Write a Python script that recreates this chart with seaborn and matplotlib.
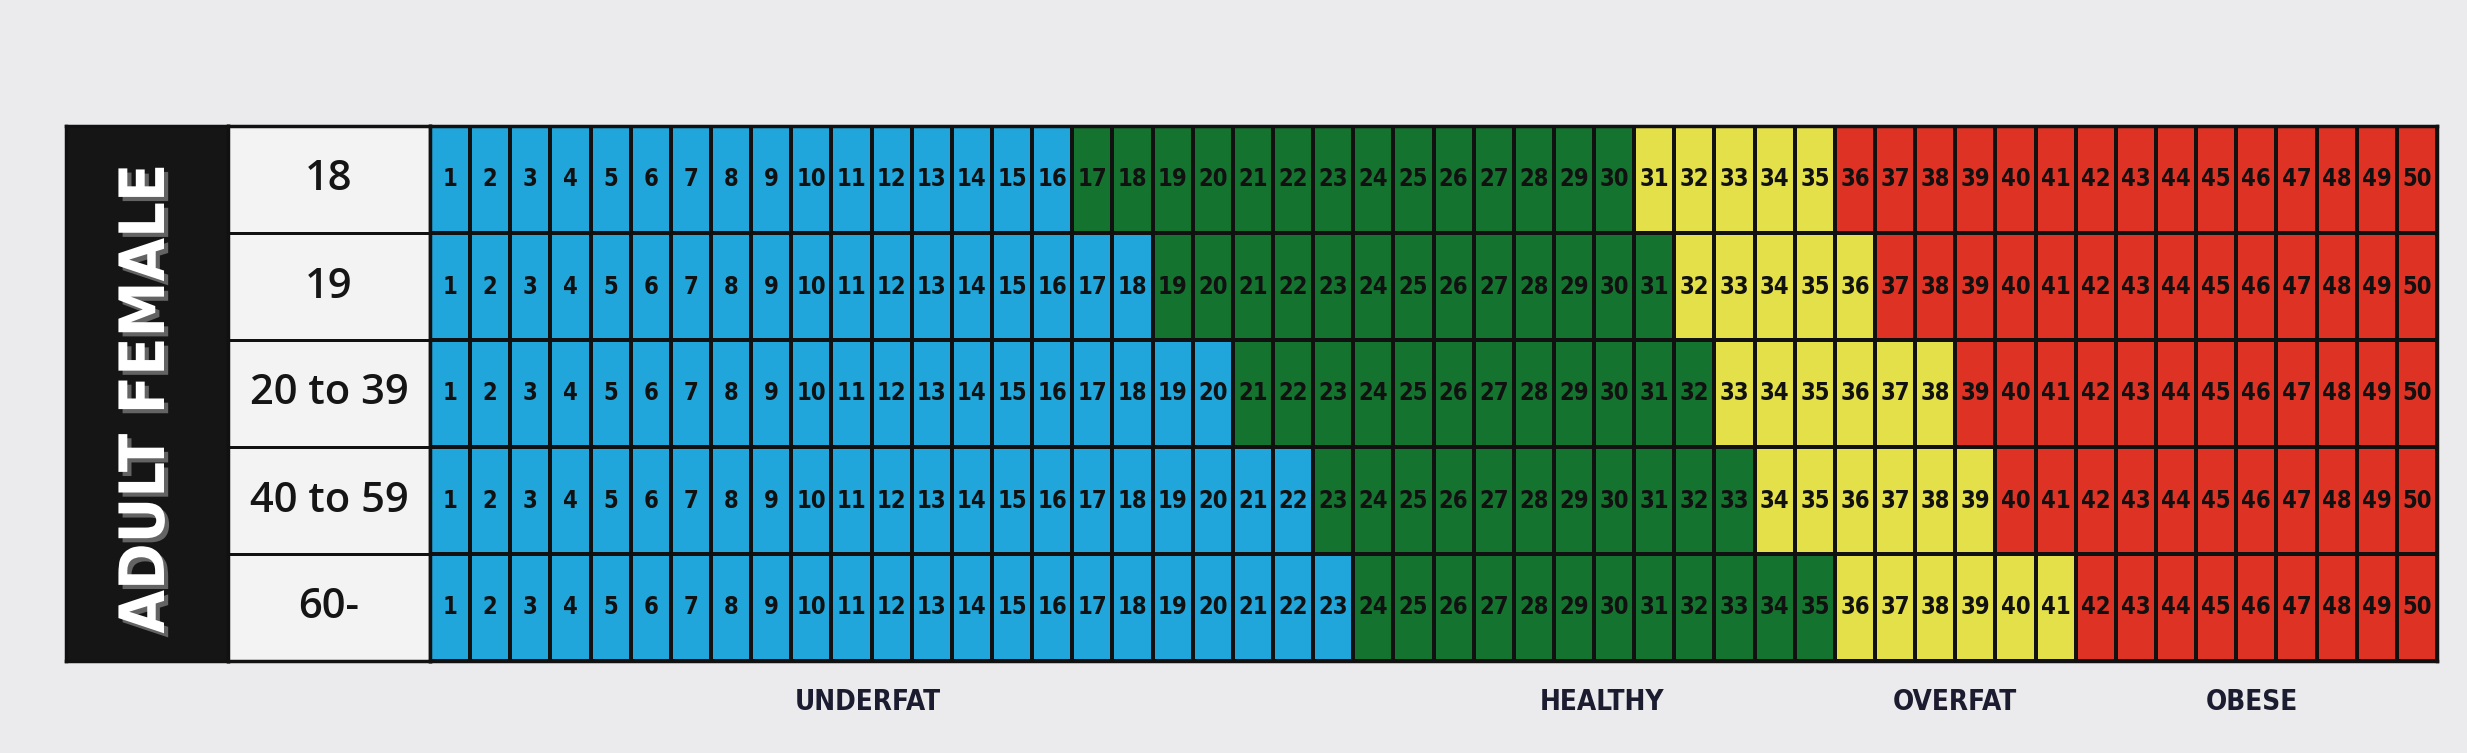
import numpy as np
import pandas as pd
import matplotlib
matplotlib.use("Agg")
import matplotlib.pyplot as plt
import matplotlib.patheffects as pe
from matplotlib.colors import ListedColormap
import seaborn as sns

# --- chart data ---
age_groups = ["18", "19", "20 to 39", "40 to 59", "60-"]
body_fat = list(range(1, 51))
healthy_from = [17, 19, 21, 23, 24]
overfat_from = [31, 32, 33, 34, 36]
obese_from = [36, 37, 39, 40, 42]
zone_names = ["UNDERFAT", "HEALTHY", "OVERFAT", "OBESE"]
zone_colors = ["#20a6da", "#157330", "#e4e04a", "#de3224"]

# caption placement (in grid column units)
zone_label_x = [10.9, 29.2, 38.0, 45.4]

sns.set_style("white")
plt.rcParams["font.family"] = ["DejaVu Sans"]

# zone code for every cell: 0 underfat, 1 healthy, 2 overfat, 3 obese
rows = []
for h, o, b in zip(healthy_from, overfat_from, obese_from):
    rows.append([0 if v < h else 1 if v < o else 2 if v < b else 3 for v in body_fat])
codes = pd.DataFrame(rows, index=age_groups, columns=body_fat)
annot = pd.DataFrame([body_fat] * len(age_groups), index=age_groups, columns=body_fat)

W, H = 2467, 753
fig = plt.figure(figsize=(W / 100, H / 100), dpi=100)
fig.patch.set_facecolor("#ebebed")


def box(x0, x1, y0=126, y1=661):
    return [x0 / W, 1 - y1 / H, (x1 - x0) / W, (y1 - y0) / H]


ax_band = fig.add_axes(box(66, 228))
ax_age = fig.add_axes(box(228, 430))
ax = fig.add_axes(box(430, 2437))

# black side band with vertical title
ax_band.set_facecolor("#151515")
ax_band.set_xticks([])
ax_band.set_yticks([])
ax_band.text(0.5, 0.49, "ADULT FEMALE", rotation=90, ha="center", va="center",
             color="white", fontsize=45, fontweight="heavy", fontstretch="condensed",
             transform=ax_band.transAxes,
             path_effects=[pe.withSimplePatchShadow(offset=(3, -3), shadow_rgbFace="#777777", alpha=0.8)])

# age column
age_frame = pd.DataFrame({"age": [0] * len(age_groups)}, index=age_groups)
sns.heatmap(age_frame, cmap=ListedColormap(["#f3f3f3"]), annot=np.array(age_groups).reshape(-1, 1),
            fmt="", cbar=False, linewidths=2, linecolor="#111111",
            xticklabels=False, yticklabels=False, ax=ax_age,
            annot_kws={"color": "#151515", "fontsize": 30, "fontweight": "semibold", "family": "Open Sans"})

# main grid
sns.heatmap(codes, cmap=ListedColormap(zone_colors), vmin=-0.5, vmax=3.5,
            annot=annot, fmt="d", cbar=False, linewidths=1.5, linecolor="#111111",
            xticklabels=False, yticklabels=False, ax=ax,
            annot_kws={"color": "#111111", "fontsize": 17, "fontweight": "bold",
                       "fontstretch": "condensed"})

for a in (ax_band, ax_age, ax):
    a.set_xlabel("")
    a.set_ylabel("")
    for s in a.spines.values():
        s.set_visible(True)
        s.set_color("#111111")
        s.set_linewidth(2.5)

for name, x in zip(zone_names, zone_label_x):
    ax.text(x, len(age_groups) + 0.38, name, ha="center", va="center", clip_on=False,
            color="#1c1c30", fontsize=20, fontweight="bold", fontstretch="condensed")

fig.savefig("out.png", dpi=100, facecolor=fig.get_facecolor())
